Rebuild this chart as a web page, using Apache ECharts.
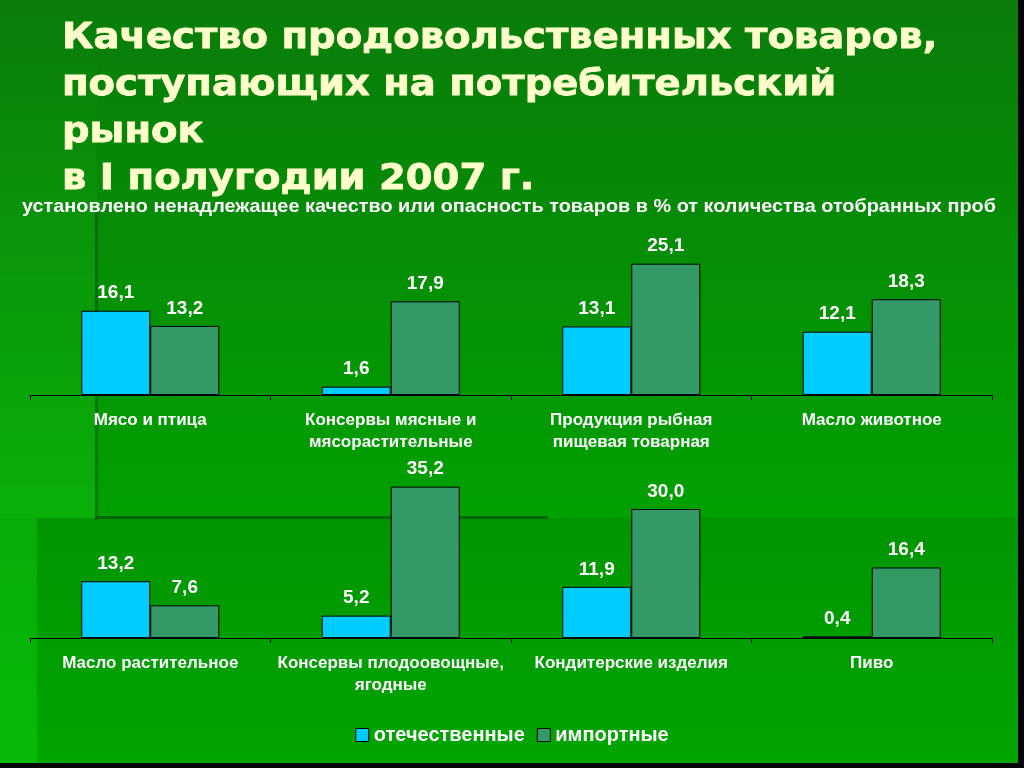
<!DOCTYPE html>
<html>
<head>
<meta charset="utf-8">
<script src="https://cdn.jsdelivr.net/npm/echarts@6/dist/echarts.min.js"></script>
<style>html,body{margin:0;padding:0;background:#000;}#c{width:1024px;height:768px;}</style>
</head>
<body>
<div id="c"></div>
<script>
var titleLines = ['Качество продовольственных товаров,', 'поступающих на потребительский', 'рынок', 'в I полугодии 2007 г.'];
var subtitleText = 'установлено ненадлежащее качество или опасность товаров в % от количества отобранных проб';
var seriesNames = ['отечественные', 'импортные'];
var categoriesTop = ['Мясо и птица', 'Консервы мясные и\nмясорастительные', 'Продукция рыбная\nпищевая товарная', 'Масло животное'];
var domesticTop = [16.1, 1.6, 13.1, 12.1];
var importTop = [13.2, 17.9, 25.1, 18.3];
var categoriesBottom = ['Масло растительное', 'Консервы плодоовощные,\nягодные', 'Кондитерские изделия', 'Пиво'];
var domesticBottom = [13.2, 5.2, 11.9, 0.4];
var importBottom = [7.6, 35.2, 30.0, 16.4];

var FONT = '"Liberation Sans", Arial, sans-serif';
var chart = echarts.init(document.getElementById('c'));
function fmt(p) { return p.value.toFixed(1).replace('.', ','); }
function barSeries(name, data, idx, color) {
  return {
    name: name, type: 'bar', xAxisIndex: idx, yAxisIndex: idx, data: data,
    barGap: '0%', barCategoryGap: '42.6%',
    itemStyle: { color: color, borderColor: '#000', borderWidth: 1 },
    label: { show: true, position: 'top', distance: 8, formatter: fmt, color: '#fff',
      fontFamily: FONT, fontWeight: 'bold', fontSize: 19 },
    emphasis: { disabled: true }, animation: false
  };
}
function xAx(idx, cats) {
  return {
    type: 'category', gridIndex: idx, data: cats,
    axisLine: { lineStyle: { color: '#000', width: 1 } },
    axisTick: { show: true, length: 5, lineStyle: { color: '#000' } },
    axisLabel: { color: '#fff', fontFamily: FONT, fontWeight: 'bold', fontSize: 17, lineHeight: 22, margin: 14, interval: 0 }
  };
}
function yAx(idx, max) {
  return { type: 'value', gridIndex: idx, min: 0, max: max, show: false, splitLine: { show: false } };
}
var titleGraphics = titleLines.map(function (t, i) {
  return { type: 'text', x: 62, y: 21 + i * 47, scaleX: 1.07, z: 10,
    style: { text: t, fill: '#ffffcc', font: 'bold 36px "DejaVu Sans", Verdana, sans-serif',
      stroke: '#ffffcc', lineWidth: 0.8,
      shadowColor: 'rgba(0,30,0,0.9)', shadowOffsetX: 3, shadowOffsetY: 3, shadowBlur: 1 } };
});
var bg = [
  { type: 'rect', shape: { x: 0, y: 0, width: 97, height: 518 }, z: -10,
    style: { fill: new echarts.graphic.LinearGradient(0, 0, 0, 1, [{ offset: 0, color: 'rgba(60,255,60,0)' }, { offset: 1, color: 'rgba(60,255,60,0.16)' }]) } },
  { type: 'rect', shape: { x: 0, y: 518, width: 37, height: 250 }, z: -10, style: { fill: 'rgba(60,255,60,0.12)' } },
  { type: 'rect', shape: { x: 37, y: 518, width: 990, height: 250 }, z: -10, style: { fill: 'rgba(0,0,0,0.07)' } },
  { type: 'rect', shape: { x: 95, y: 210, width: 3, height: 310 }, z: -9, style: { fill: 'rgba(0,70,0,0.5)' } },
  { type: 'rect', shape: { x: 95, y: 516, width: 453, height: 3 }, z: -9, style: { fill: '#006600' } },
  { type: 'rect', shape: { x: 1018, y: 0, width: 6, height: 768 }, z: -8, style: { fill: '#000' } },
  { type: 'rect', shape: { x: 0, y: 763, width: 1024, height: 5 }, z: -8, style: { fill: '#000' } },
  { type: 'text', x: 22, y: 197, scaleX: 1.045, z: 10,
    style: { text: subtitleText, fill: '#ffffff', font: 'bold 19px ' + FONT,
      shadowColor: 'rgba(0,0,0,0.9)', shadowOffsetX: 2, shadowOffsetY: 2, shadowBlur: 1 } }
];
chart.setOption({
  animation: false,
  backgroundColor: new echarts.graphic.LinearGradient(0, 0, 0, 1, [
    { offset: 0, color: 'rgb(10,124,10)' }, { offset: 0.67, color: 'rgb(0,160,0)' }, { offset: 1, color: 'rgb(0,178,0)' }]),
  graphic: bg.concat(titleGraphics),
  legend: { data: seriesNames, left: 'center', top: 720, itemWidth: 13, itemHeight: 13, itemGap: 12,
    icon: 'rect', selectedMode: false,
    itemStyle: { borderColor: '#000', borderWidth: 1 },
    textStyle: { color: '#fff', fontFamily: FONT, fontWeight: 'bold', fontSize: 20 } },
  grid: [
    { left: 30, right: 32, top: 238, height: 157 },
    { left: 30, right: 32, top: 466, height: 172 }
  ],
  xAxis: [xAx(0, categoriesTop), xAx(1, categoriesBottom)],
  yAxis: [yAx(0, 30), yAx(1, 40)],
  series: [
    barSeries(seriesNames[0], domesticTop, 0, '#00ccff'),
    barSeries(seriesNames[1], importTop, 0, '#339966'),
    barSeries(seriesNames[0], domesticBottom, 1, '#00ccff'),
    barSeries(seriesNames[1], importBottom, 1, '#339966')
  ]
});
</script>
</body>
</html>
